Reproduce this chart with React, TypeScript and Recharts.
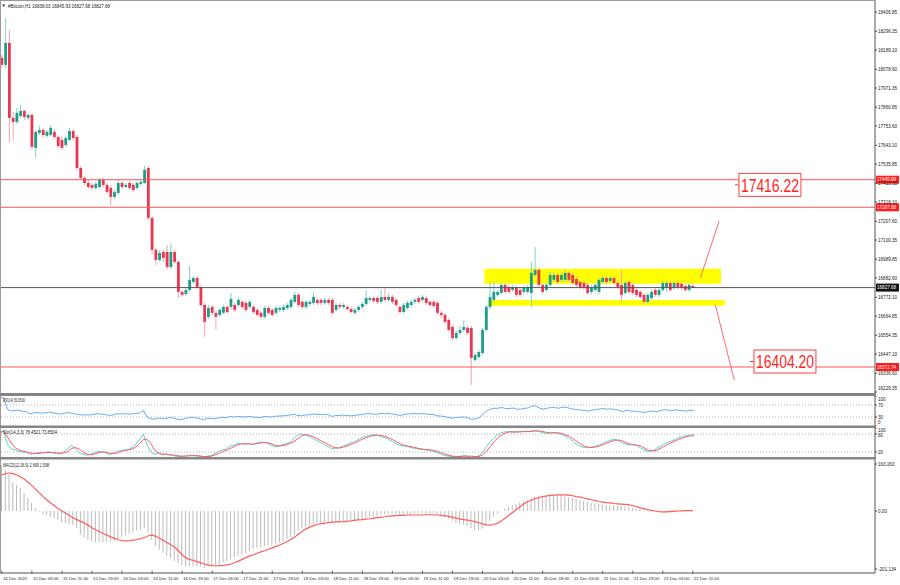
import React from 'react';
import { ComposedChart, Bar, Line, XAxis, YAxis, ReferenceLine, ReferenceArea, ReferenceDot } from 'recharts';

// ---------- data ----------
const opens = [
  18144, 18104, 18230, 17800, 17777, 17811, 17840, 17800, 17817, 17628,
  17714, 17731, 17697, 17702, 17720, 17691, 17674, 17645, 17674, 17725,
  17691, 17513, 17456, 17427, 17416, 17399, 17404, 17445, 17416, 17399,
  17347, 17370, 17427, 17404, 17427, 17416, 17399, 17422, 17427, 17513,
  17227, 17044, 16986, 17032, 17032, 16946, 17032, 16975, 16803, 16791,
  16814, 16860, 16883, 16831, 16728, 16660, 16717, 16683, 16671, 16683,
  16717, 16717, 16728, 16728, 16746, 16740, 16717, 16717, 16700, 16683,
  16660, 16711, 16700, 16683, 16700, 16700, 16711, 16717, 16746, 16786,
  16746, 16717, 16734, 16740, 16757, 16757, 16740, 16757, 16757, 16700,
  16728, 16717, 16717, 16705, 16683, 16700, 16717, 16734, 16757, 16768,
  16768, 16746, 16774, 16757, 16774, 16757, 16717, 16688, 16711, 16728,
  16746, 16768, 16757, 16768, 16746, 16746, 16740, 16683, 16671, 16642,
  16602, 16539, 16568, 16585, 16597, 16597, 16413, 16430, 16453, 16585,
  16717, 16757, 16786, 16797, 16843, 16831, 16814, 16826, 16814, 16803,
  16803, 16797, 16900, 16929, 16843, 16814, 16843, 16872, 16900, 16872,
  16872, 16912, 16900, 16877, 16860, 16854, 16843, 16803, 16814, 16803,
  16860, 16883, 16866, 16883, 16854, 16843, 16797, 16860, 16843, 16814,
  16803, 16786, 16746, 16768, 16814, 16786, 16814, 16831, 16854, 16826,
  16854, 16849, 16837, 16814, 16838.03,
];
const highs = [
  18161, 18373, 18304, 17834, 17857, 17874, 17846, 17829, 17829, 17731,
  17754, 17743, 17731, 17760, 17737, 17702, 17697, 17697, 17743, 17737,
  17702, 17525, 17468, 17445, 17427, 17433, 17456, 17456, 17427, 17410,
  17387, 17445, 17439, 17427, 17439, 17427, 17439, 17445, 17525, 17525,
  17238, 17055, 17044, 17044, 17072, 17084, 17044, 16986, 16814, 16826,
  16952, 16894, 16894, 16843, 16740, 16728, 16728, 16694, 16711, 16728,
  16728, 16797, 16740, 16768, 16757, 16751, 16757, 16728, 16711, 16694,
  16723, 16723, 16711, 16723, 16723, 16728, 16740, 16768, 16803, 16797,
  16757, 16757, 16757, 16803, 16768, 16768, 16768, 16768, 16768, 16740,
  16740, 16740, 16728, 16717, 16711, 16728, 16746, 16814, 16780, 16780,
  16780, 16814, 16831, 16797, 16786, 16768, 16728, 16740, 16751, 16757,
  16768, 16780, 16786, 16780, 16757, 16757, 16751, 16694, 16683, 16654,
  16614, 16579, 16608, 16642, 16608, 16608, 16453, 16471, 16597, 16728,
  16854, 16860, 16814, 16854, 16854, 16843, 16843, 16837, 16826, 16837,
  16843, 16975, 17060, 16940, 16854, 16854, 16917, 16917, 16912, 16912,
  16929, 16923, 16912, 16889, 16872, 16866, 16854, 16843, 16854, 16883,
  16894, 16894, 16894, 16894, 16866, 16929, 16866, 16872, 16854, 16826,
  16814, 16797, 16797, 16814, 16826, 16826, 16866, 16866, 16866, 16866,
  16866, 16860, 16849, 16854, 16845.93,
];
const lows = [
  18086, 18086, 17662, 17674, 17765, 17800, 17788, 17788, 17617, 17571,
  17702, 17691, 17685, 17697, 17680, 17628, 17617, 17634, 17668, 17674,
  17502, 17445, 17416, 17393, 17387, 17387, 17399, 17404, 17364, 17301,
  17336, 17359, 17393, 17399, 17387, 17376, 17387, 17410, 17422, 17215,
  17015, 16958, 16975, 16975, 16929, 16935, 16963, 16768, 16774, 16780,
  16803, 16849, 16820, 16717, 16545, 16648, 16671, 16585, 16660, 16677,
  16677, 16705, 16688, 16717, 16705, 16688, 16705, 16677, 16660, 16648,
  16648, 16671, 16660, 16671, 16688, 16688, 16700, 16705, 16734, 16717,
  16705, 16705, 16723, 16728, 16728, 16728, 16728, 16728, 16671, 16688,
  16705, 16705, 16694, 16677, 16671, 16688, 16705, 16723, 16746, 16740,
  16734, 16734, 16746, 16746, 16734, 16717, 16677, 16677, 16700, 16717,
  16734, 16734, 16746, 16728, 16717, 16711, 16671, 16654, 16619, 16574,
  16528, 16528, 16556, 16574, 16556, 16270, 16402, 16419, 16442, 16574,
  16705, 16746, 16774, 16786, 16791, 16791, 16803, 16774, 16774, 16791,
  16791, 16717, 16889, 16831, 16791, 16803, 16831, 16860, 16849, 16860,
  16860, 16860, 16843, 16831, 16820, 16814, 16786, 16791, 16803, 16791,
  16849, 16849, 16854, 16843, 16820, 16746, 16786, 16791, 16786, 16774,
  16763, 16734, 16734, 16757, 16774, 16774, 16803, 16803, 16803, 16814,
  16820, 16814, 16803, 16803, 16827.68,
];
const closes = [
  18104, 18230, 17800, 17777, 17829, 17840, 17806, 17817, 17634, 17720,
  17731, 17702, 17720, 17743, 17691, 17639, 17628, 17685, 17725, 17685,
  17513, 17456, 17427, 17404, 17399, 17422, 17445, 17416, 17376, 17347,
  17376, 17427, 17404, 17416, 17399, 17387, 17427, 17433, 17502, 17227,
  17044, 16986, 17026, 16998, 16946, 17032, 16975, 16803, 16786, 16814,
  16872, 16883, 16831, 16728, 16631, 16711, 16683, 16660, 16700, 16717,
  16688, 16763, 16700, 16757, 16717, 16700, 16746, 16688, 16671, 16660,
  16711, 16683, 16671, 16711, 16711, 16717, 16728, 16757, 16786, 16728,
  16717, 16746, 16746, 16774, 16740, 16740, 16757, 16740, 16683, 16728,
  16717, 16728, 16705, 16688, 16700, 16717, 16734, 16768, 16768, 16751,
  16746, 16774, 16757, 16774, 16746, 16728, 16688, 16728, 16740, 16746,
  16757, 16746, 16774, 16740, 16728, 16723, 16683, 16671, 16631, 16585,
  16539, 16568, 16585, 16602, 16568, 16425, 16442, 16459, 16585, 16717,
  16774, 16803, 16803, 16843, 16803, 16803, 16831, 16786, 16786, 16826,
  16831, 16912, 16929, 16843, 16803, 16843, 16900, 16900, 16860, 16900,
  16912, 16872, 16854, 16843, 16831, 16826, 16797, 16831, 16843, 16872,
  16883, 16860, 16883, 16854, 16831, 16786, 16854, 16803, 16797, 16786,
  16774, 16746, 16786, 16803, 16786, 16814, 16854, 16854, 16814, 16854,
  16831, 16826, 16814, 16843, 16827.68,
];
const rsiValues = [
  97, 92, 55, 50, 52, 52, 49, 48, 40, 44,
  45, 43, 44, 46, 44, 41, 40, 42, 45, 43,
  40, 38, 37, 37, 37, 39, 41, 40, 38, 35,
  37, 41, 40, 41, 40, 40, 42, 43, 52, 30,
  24, 23, 26, 25, 24, 29, 27, 22, 22, 24,
  28, 29, 27, 24, 21, 26, 25, 24, 27, 29,
  28, 32, 30, 32, 31, 30, 32, 30, 29, 28,
  32, 31, 30, 33, 33, 34, 35, 37, 39, 35,
  34, 37, 37, 40, 38, 38, 39, 38, 32, 35,
  35, 36, 35, 34, 35, 37, 38, 41, 41, 40,
  39, 42, 41, 42, 40, 38, 35, 38, 40, 41,
  42, 40, 42, 40, 39, 38, 34, 33, 31, 28,
  26, 28, 29, 30, 28, 22, 24, 27, 38, 50,
  56, 59, 59, 62, 58, 58, 60, 56, 56, 59,
  60, 66, 67, 60, 56, 59, 62, 62, 59, 62,
  63, 59, 56, 55, 53, 52, 50, 53, 54, 57,
  58, 56, 57, 55, 53, 48, 53, 50, 49, 48,
  47, 45, 48, 50, 48, 51, 54, 54, 51, 54,
  52, 51, 50, 53, 50.653,
];
const stochMain = [
  87, 90, 45, 30, 27, 22, 20, 19, 12, 15,
  18, 17, 19, 20, 17, 15, 15, 20, 32, 43,
  30, 18, 12, 10, 12, 17, 22, 20, 17, 12,
  15, 22, 25, 27, 28, 35, 45, 62, 80, 45,
  20, 12, 17, 10, 12, 10, 8, 5, 5, 7,
  10, 8, 7, 5, 4, 6, 8, 15, 22, 27,
  30, 40, 42, 50, 48, 45, 48, 45, 50, 53,
  52, 48, 42, 37, 40, 45, 48, 53, 65, 78,
  80, 76, 72, 65, 58, 52, 45, 38, 30, 33,
  35, 40, 45, 50, 55, 62, 68, 72, 75, 78,
  76, 72, 68, 62, 55, 48, 42, 40, 38, 35,
  32, 30, 28, 27, 25, 22, 18, 12, 8, 6,
  5, 4, 5, 8, 6, 3, 4, 8, 20, 38,
  55, 68, 78, 85, 87, 88, 86, 87, 88, 89,
  88, 90, 92, 88, 84, 82, 84, 85, 82, 78,
  72, 65, 55, 45, 38, 35, 34, 36, 40, 44,
  50, 55, 60, 62, 58, 50, 46, 44, 44, 40,
  32, 25, 22, 24, 30, 38, 46, 52, 56, 62,
  68, 72, 74, 76, 78.4521,
];
const stochSignal = [
  85, 88, 70, 50, 35, 27, 23, 20, 17, 15,
  15, 17, 18, 19, 18, 17, 16, 17, 22, 32,
  35, 30, 20, 13, 11, 13, 17, 20, 20, 16,
  15, 16, 21, 25, 27, 30, 36, 47, 62, 62,
  48, 26, 16, 13, 13, 11, 10, 8, 6, 6,
  7, 8, 8, 7, 5, 5, 6, 10, 15, 21,
  26, 32, 37, 44, 47, 48, 47, 46, 48, 49,
  52, 51, 47, 42, 40, 41, 44, 49, 55, 65,
  74, 78, 76, 71, 65, 58, 52, 45, 38, 34,
  33, 36, 40, 45, 50, 56, 62, 67, 72, 75,
  76, 75, 72, 67, 62, 55, 48, 43, 40, 38,
  35, 32, 30, 28, 27, 25, 22, 17, 13, 9,
  6, 5, 5, 6, 6, 6, 5, 5, 11, 22,
  38, 54, 67, 77, 83, 87, 87, 87, 87, 88,
  88, 89, 90, 90, 88, 85, 83, 84, 84, 82,
  77, 72, 64, 55, 46, 39, 36, 35, 37, 40,
  45, 50, 55, 59, 60, 57, 51, 47, 45, 43,
  39, 32, 26, 24, 25, 31, 38, 45, 51, 57,
  62, 67, 71, 74, 73.8504,
];
const macdMain = [
  160, 142, 125, 101, 90, 80, 62, 45, 28, 10,
  -3, -10, -14, -21, -24, -31, -38, -42, -45, -49,
  -59, -83, -94, -101, -104, -108, -108, -108, -108, -108,
  -104, -97, -90, -83, -80, -76, -69, -66, -59, -76,
  -101, -122, -135, -146, -156, -163, -174, -181, -188, -191,
  -191, -191, -191, -191, -198, -194, -191, -188, -184, -177,
  -174, -167, -160, -156, -149, -146, -139, -132, -128, -125,
  -122, -118, -118, -115, -111, -104, -97, -90, -83, -69,
  -59, -55, -50, -45, -42, -40, -38, -38, -40, -38,
  -36, -35, -33, -33, -32, -30, -28, -25, -22, -20,
  -18, -15, -12, -10, -9, -10, -12, -13, -12, -10,
  -9, -8, -7, -7, -8, -8, -10, -14, -20, -28,
  -36, -42, -46, -48, -50, -60, -66, -68, -62, -50,
  -35, -22, -10, 0, 8, 15, 20, 25, 30, 34,
  38, 44, 50, 52, 54, 55, 56, 57, 56, 56,
  50, 48, 45, 42, 38, 35, 32, 29, 27, 25,
  23, 22, 20, 19, 18, 17, 15, 13, 11, 9,
  7, 5, 2, -1, -2, -1, 1, 3, 4, 4,
  3, 3, 2, 3, 2.669,
];
const macdSignal = [
  125, 130, 132, 130, 125, 118, 110, 100, 88, 75,
  62, 50, 38, 28, 18, 8, 0, -8, -16, -24,
  -30, -36, -42, -50, -58, -65, -72, -78, -84, -90,
  -95, -100, -103, -104, -103, -101, -99, -96, -92, -86,
  -84, -88, -95, -102, -110, -118, -125, -138, -152, -163,
  -168, -172, -176, -180, -184, -188, -190, -191, -190, -189,
  -187, -184, -180, -174, -168, -162, -156, -152, -147, -142,
  -138, -133, -128, -123, -118, -112, -106, -98, -90, -80,
  -70, -62, -56, -51, -47, -44, -42, -40, -39, -38,
  -38, -37, -35, -34, -32, -31, -30, -28, -27, -25,
  -23, -21, -20, -18, -17, -16, -15, -15, -14, -14,
  -14, -14, -14, -13, -13, -13, -14, -15, -17, -19,
  -22, -25, -28, -30, -32, -34, -37, -41, -45, -48,
  -49, -47, -42, -35, -25, -15, -5, 5, 15, 25,
  32, 38, 43, 47, 50, 52, 54, 55, 56, 56,
  56, 55, 53, 50, 48, 45, 42, 39, 36, 33,
  31, 29, 28, 26, 25, 24, 23, 21, 19, 15,
  11, 8, 5, 2, 0, -2, -3, -3, -2, -1,
  0, 0.5, 1, 1.3, 1.598,
];
const timeLabels = [
  '14 Dec 2022', '15 Dec 03:00', '15 Dec 11:00', '15 Dec 19:00', '16 Dec 03:00', '16 Dec 11:00',
  '16 Dec 19:00', '17 Dec 03:00', '17 Dec 11:00', '17 Dec 19:00', '18 Dec 03:00', '18 Dec 11:00',
  '18 Dec 19:00', '19 Dec 03:00', '19 Dec 11:00', '19 Dec 19:00', '20 Dec 03:00', '20 Dec 11:00',
  '20 Dec 19:00', '21 Dec 03:00', '21 Dec 11:00', '21 Dec 19:00', '22 Dec 03:00', '22 Dec 11:00',
];
const priceTicks = [
  18406.85, 18296.35, 18189.1, 18078.6, 17971.35, 17860.85, 17753.6, 17643.1, 17535.85, 17425.35,
  17318.1, 17207.6, 17100.35, 16989.85, 16882.6, 16772.1, 16664.85, 16554.35, 16447.1, 16336.6, 16229.35,
];
const redLevels = [17445.89, 17287.88, 16372.74];
const currentPrice = 16827.68;
const callouts = [
  { i: 196, price: 17416.22 },
  { i: 200, price: 16404.2 },
];
const rsiTicks = [0, 30, 70, 100];
const stochTicks = [20, 80, 100];
const macdTicks = [-201.134, 0, 163.263];

// ---------- layout ----------
const FONT = '"Liberation Sans", Arial, sans-serif';
const SLOTS = 233;
const AXIS_W = 25;
const UP = '#1f9d8b';
const DN = '#ec3650';
const UP_WICK = '#86d2c6';
const DN_WICK = '#f5a3b0';

const rows: any[] = Array.from({ length: SLOTS }, (_, i) =>
  i < opens.length
    ? {
        i,
        o: opens[i],
        h: highs[i],
        l: lows[i],
        c: closes[i],
        hl: [lows[i], highs[i]],
        rsi: rsiValues[i],
        k: stochMain[i],
        d: stochSignal[i],
        macd: macdMain[i],
        sig: macdSignal[i],
      }
    : { i }
);

function Candle(props: any) {
  const { x, y, width, height, payload } = props;
  if (!payload || payload.o == null || x == null || y == null || isNaN(y) || isNaN(height)) return <g />;
  const top = Math.min(y, y + height);
  const h = Math.abs(height);
  const span = payload.h - payload.l;
  const k = span > 0 ? h / span : 0;
  const cx = x + width / 2;
  const up = payload.c >= payload.o;
  const y1 = top + (payload.h - Math.max(payload.o, payload.c)) * k;
  const y2 = top + (payload.h - Math.min(payload.o, payload.c)) * k;
  return (
    <g>
      <line x1={cx} x2={cx} y1={top} y2={top + h} stroke={up ? UP_WICK : DN_WICK} strokeWidth={1} />
      <rect x={cx - 1.4} y={y1} width={2.8} height={Math.max(1, y2 - y1)} fill={up ? UP : DN} />
    </g>
  );
}

function SideTick(props: any) {
  const { x, y, payload, fmt, lo, hi, nudge } = props;
  const extra = nudge && nudge[payload.value] ? nudge[payload.value] : 0;
  const yy = Math.max(lo, Math.min(hi, y)) + extra;
  return (
    <text x={x} y={yy} dy="0.35em" fontSize={4.6} fill="#222" fontFamily={FONT} textAnchor="start">
      {fmt(payload.value)}
    </text>
  );
}

function TimeTick(props: any) {
  const { x, y, payload } = props;
  const i = Number(payload.value);
  if (i % 8 !== 0 || i / 8 >= timeLabels.length) return <g />;
  return (
    <g>
      <line x1={x} x2={x} y1={y - 2.5} y2={y + 0.5} stroke="#444" strokeWidth={0.8} />
      <text x={x + 1} y={y + 6.5} fontSize={4.3} fill="#222" fontFamily={FONT}>
        {timeLabels[i / 8]}
      </text>
    </g>
  );
}

function AxisTag(props: any) {
  const { viewBox, text, bg } = props;
  if (!viewBox) return <g />;
  const x = viewBox.x + viewBox.width;
  const y = viewBox.y;
  return (
    <g>
      <rect x={x + 1} y={y - 4} width={23} height={8} fill={bg} />
      <text x={x + 2} y={y} dy="0.35em" fontSize={4.6} fill="#fff" fontFamily={FONT}>
        {text}
      </text>
    </g>
  );
}

function Callout(props: any) {
  const { cx, cy, text } = props;
  if (cx == null || cy == null) return <g />;
  return (
    <g>
      <line x1={cx - 3} x2={cx + 1} y1={cy} y2={cy} stroke="#ff3030" strokeWidth={1} />
      <rect x={cx + 1} y={cy - 11.5} width={62} height={23} fill="#fff" stroke="#ff4040" strokeWidth={1} />
      <text
        x={cx + 32}
        y={cy}
        dy="0.36em"
        textAnchor="middle"
        fontSize={19}
        fill="#ff1f1f"
        fontFamily={FONT}
        textLength={58}
        lengthAdjust="spacingAndGlyphs"
      >
        {text}
      </text>
    </g>
  );
}

const fmt2 = (v: number) => v.toFixed(2);
const fmtInt = (v: number) => String(Math.round(v));
const fmtMacd = (v: number) => (v === 0 ? '0.00' : String(v));

export default function App() {
  return (
    <div
      style={{
        position: 'absolute',
        left: 0,
        top: 0,
        width: 900,
        height: 585,
        background: '#fff',
        overflow: 'hidden',
        fontFamily: FONT,
      }}
    >
      {/* Main price pane */}
      <div style={{ position: 'absolute', left: 0, top: 0 }}>
        <ComposedChart width={900} height={393} data={rows} margin={{ top: 0, right: 0, bottom: 0, left: 0 }}>
          <XAxis dataKey="i" hide />
          <YAxis
            orientation="right"
            width={AXIS_W}
            domain={[16223.7, 18475.6]}
            allowDataOverflow
            ticks={priceTicks}
            interval={0}
            tickSize={2}
            tickMargin={1}
            tickLine={{ stroke: '#444' }}
            axisLine={{ stroke: '#555' }}
            tick={<SideTick fmt={fmt2} lo={4} hi={388.5} />}
          />
          <ReferenceArea x1={129} x2={191} y1={16849} y2={16935} fill="#ffff00" fillOpacity={1} stroke="none" />
          <ReferenceArea x1={130} x2={192} y1={16723} y2={16757} fill="#ffff00" fillOpacity={1} stroke="none" />
          {redLevels.map((v) => (
            <ReferenceLine key={v} y={v} stroke="#ff5555" strokeWidth={1} label={<AxisTag text={fmt2(v)} bg="#ff1c1c" />} />
          ))}
          <ReferenceLine y={currentPrice} stroke="#555" strokeWidth={1} label={<AxisTag text={fmt2(currentPrice)} bg="#111" />} />
          <Bar dataKey="hl" shape={<Candle />} isAnimationActive={false} />
          <ReferenceLine
            segment={[
              { x: 186, y: 16883 },
              { x: 191, y: 17210 },
            ]}
            stroke="#ff6b6b"
            strokeWidth={1}
          />
          <ReferenceLine
            segment={[
              { x: 190, y: 16728 },
              { x: 195, y: 16298 },
            ]}
            stroke="#ff6b6b"
            strokeWidth={1}
          />
          {callouts.map((c) => (
            <ReferenceDot key={c.price} x={c.i} y={c.price} r={2} shape={<Callout text={fmt2(c.price)} />} />
          ))}
        </ComposedChart>
      </div>

      {/* RSI pane */}
      <div style={{ position: 'absolute', left: 0, top: 396 }}>
        <ComposedChart width={900} height={30} data={rows} margin={{ top: 0, right: 0, bottom: 0, left: 0 }}>
          <XAxis dataKey="i" hide />
          <YAxis
            orientation="right"
            width={AXIS_W}
            domain={[0, 100]}
            ticks={rsiTicks}
            interval={0}
            tickSize={2}
            tickMargin={1}
            tickLine={{ stroke: '#444' }}
            axisLine={{ stroke: '#555' }}
            tick={<SideTick fmt={fmtInt} lo={3} hi={26} />}
          />
          <ReferenceLine y={70} stroke="#b5b5b5" strokeDasharray="1 2" />
          <ReferenceLine y={30} stroke="#b5b5b5" strokeDasharray="1 2" />
          <Line dataKey="rsi" stroke="#64aef5" strokeWidth={1} dot={false} isAnimationActive={false} />
        </ComposedChart>
      </div>

      {/* Stochastic pane */}
      <div style={{ position: 'absolute', left: 0, top: 428 }}>
        <ComposedChart width={900} height={30} data={rows} margin={{ top: 0, right: 0, bottom: 0, left: 0 }}>
          <XAxis dataKey="i" hide />
          <YAxis
            orientation="right"
            width={AXIS_W}
            domain={[0, 100]}
            ticks={stochTicks}
            interval={0}
            tickSize={2}
            tickMargin={1}
            tickLine={{ stroke: '#444' }}
            axisLine={{ stroke: '#555' }}
            tick={<SideTick fmt={fmtInt} lo={2.5} hi={26} nudge={{ 80: 1.6 }} />}
          />
          <ReferenceLine y={80} stroke="#b5b5b5" strokeDasharray="1 2" />
          <ReferenceLine y={20} stroke="#b5b5b5" strokeDasharray="1 2" />
          <Line dataKey="k" stroke="#5fd3c6" strokeWidth={1} dot={false} isAnimationActive={false} />
          <Line dataKey="d" stroke="#ff5a6a" strokeWidth={1} dot={false} isAnimationActive={false} />
        </ComposedChart>
      </div>

      {/* MACD pane + time axis */}
      <div style={{ position: 'absolute', left: 0, top: 459 }}>
        <ComposedChart width={900} height={126} data={rows} margin={{ top: 0, right: 0, bottom: 0, left: 0 }}>
          <XAxis
            dataKey="i"
            height={12}
            interval={0}
            tickLine={false}
            tickSize={0}
            tickMargin={0}
            axisLine={{ stroke: '#555' }}
            tick={<TimeTick />}
          />
          <YAxis
            orientation="right"
            width={AXIS_W}
            domain={[-215.4, 180.6]}
            allowDataOverflow
            ticks={macdTicks}
            interval={0}
            tickSize={2}
            tickMargin={1}
            tickLine={{ stroke: '#444' }}
            axisLine={{ stroke: '#555' }}
            tick={<SideTick fmt={fmtMacd} lo={3} hi={111} />}
          />
          <Bar dataKey="macd" barSize={1} fill="#bcbcbc" isAnimationActive={false} />
          <Line dataKey="sig" stroke="#ff5c5c" strokeWidth={1.2} dot={false} isAnimationActive={false} />
        </ComposedChart>
      </div>

      {/* frame, separators, pane captions */}
      <svg width={900} height={585} style={{ position: 'absolute', left: 0, top: 0, pointerEvents: 'none' }}>
        <line x1={0.5} x2={0.5} y1={0} y2={573} stroke="#9a9a9a" />
        <line x1={0} x2={875} y1={0.5} y2={0.5} stroke="#9a9a9a" />
        <rect x={0} y={393} width={876} height={3} fill="#858585" />
        <rect x={0} y={425.5} width={876} height={2.5} fill="#858585" />
        <rect x={0} y={457} width={876} height={2.5} fill="#858585" />
        <path d="M2.2 4.4 L5.2 4.4 L3.7 6.9 Z" fill="#333" />
        <text x={8} y={7.6} fontSize={4.6} fill="#222" fontFamily={FONT} textLength={102} lengthAdjust="spacingAndGlyphs">
          #Bitcoin,H1  16838.03 16845.93 16827.68 16827.68
        </text>
        <text x={3} y={401.5} fontSize={4.6} fill="#222" fontFamily={FONT} textLength={22} lengthAdjust="spacingAndGlyphs">
          RSI(14) 50.6530
        </text>
        <text x={3} y={433.5} fontSize={4.6} fill="#222" fontFamily={FONT} textLength={54} lengthAdjust="spacingAndGlyphs">
          Sto(14,3,3) 78.4521 73.8504
        </text>
        <text x={3} y={466.5} fontSize={4.6} fill="#222" fontFamily={FONT} textLength={46} lengthAdjust="spacingAndGlyphs">
          MACD(12,26,9) 2.669 1.598
        </text>
      </svg>
    </div>
  );
}
